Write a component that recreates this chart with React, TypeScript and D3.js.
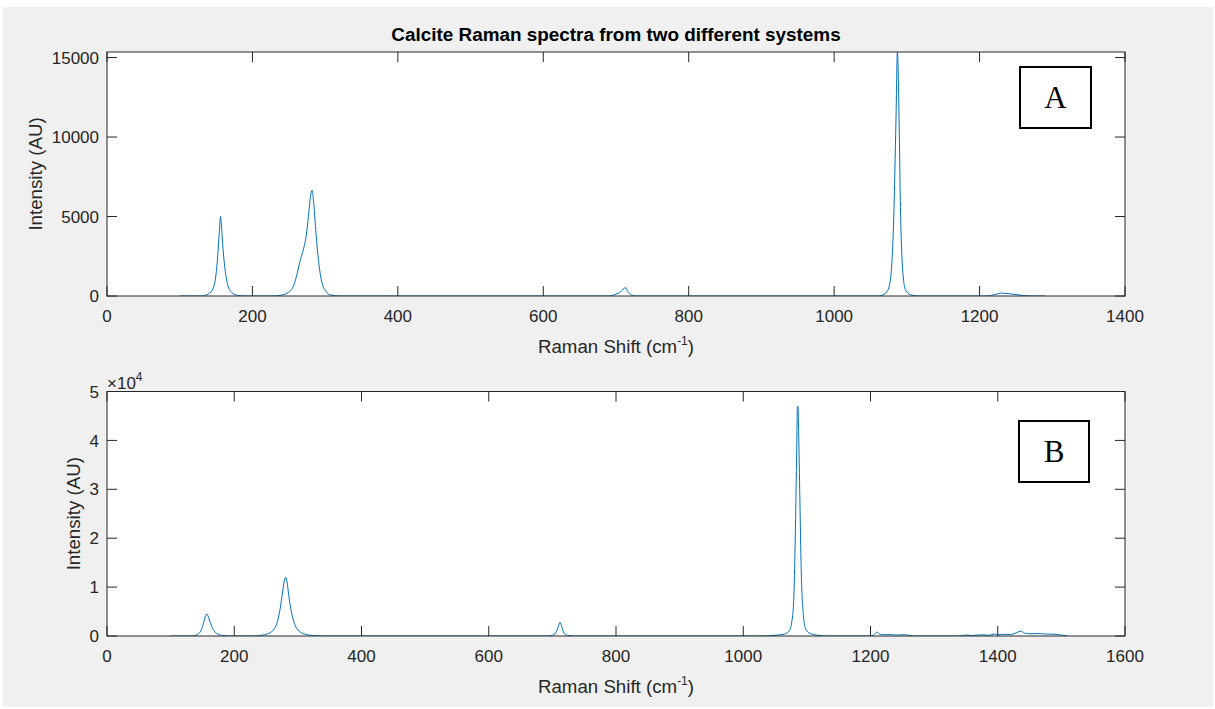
import React from 'react';
import * as d3 from 'd3';

// ---------- data ----------
const titleText = 'Calcite Raman spectra from two different systems';
const xLabelMain = 'Raman Shift (cm';
const xLabelSup = '-1';
const yLabelText = 'Intensity (AU)';

const xTicksA = [0, 200, 400, 600, 800, 1000, 1200, 1400];
const yTicksA = [0, 5000, 10000, 15000];
const yLabelsA = ['0', '5000', '10000', '15000'];
const xTicksB = [0, 200, 400, 600, 800, 1000, 1200, 1400, 1600];
const yTicksB = [0, 10000, 20000, 30000, 40000, 50000];
const yLabelsB = ['0', '1', '2', '3', '4', '5'];

// System A spectrum (Raman shift cm-1, intensity)
const shiftA = [
  100, 130, 140, 146, 150, 153, 155, 156, 157, 159, 162, 166, 172, 180, 190,
  230, 240, 250, 257, 262, 266, 270, 274, 277, 280, 282, 284, 287, 290, 294, 300, 308, 320,
  690, 700, 706, 710, 713, 716, 720, 728,
  1060, 1070, 1075, 1079, 1082, 1085, 1087, 1089, 1091, 1094, 1098, 1105, 1115,
  1210, 1220, 1230, 1240, 1250, 1260, 1270, 1290,
];
const intensityA = [
  0, 0, 150, 500, 1400, 3000, 4400, 5000, 4700, 3300, 1800, 700, 200, 40, 0,
  0, 60, 250, 700, 1500, 2300, 2900, 3800, 5000, 6300, 6650, 6000, 4200, 2600, 1200, 350, 60, 0,
  0, 120, 250, 450, 520, 300, 100, 0,
  0, 150, 500, 1800, 5000, 11000, 15350, 12000, 6000, 1800, 400, 80, 0,
  0, 80, 180, 150, 90, 30, 0, 0,
];

// System B spectrum
const shiftB = [
  100, 135, 142, 148, 152, 155, 157, 159, 163, 168, 174, 182, 195,
  230, 245, 255, 263, 268, 272, 276, 279, 281, 283, 286, 290, 295, 302, 312, 325, 340,
  690, 700, 705, 709, 712, 715, 718, 724, 735,
  1030, 1050, 1065, 1072, 1077, 1080, 1082, 1084, 1085, 1086, 1087, 1089, 1091, 1094, 1098, 1105, 1115, 1130,
  1200, 1205, 1210, 1214, 1220, 1230, 1240, 1255, 1262, 1270,
  1340, 1350, 1360, 1375, 1385, 1395, 1402, 1410, 1420, 1430, 1436, 1442, 1452, 1462, 1475, 1490, 1500, 1510,
];
const intensityB = [
  0, 0, 300, 1200, 2800, 4200, 4500, 4000, 2500, 1100, 400, 100, 0,
  0, 200, 600, 1500, 3000, 5500, 9000, 11500, 12000, 11000, 8000, 4800, 2400, 1000, 350, 80, 0,
  0, 150, 600, 1800, 2800, 1800, 600, 150, 0,
  0, 150, 400, 1000, 3500, 10000, 22000, 38000, 46500, 47000, 42000, 28000, 14000, 5000, 1500, 500, 200, 0,
  0, 200, 800, 400, 250, 300, 200, 250, 100, 0,
  0, 200, 100, 250, 150, 400, 250, 350, 300, 700, 1000, 600, 450, 500, 400, 350, 200, 0,
];

// ---------- styling / layout ----------
const W = 1215;
const H = 709;
const AX = '#262626';
const LINE = '#0072BD';
const FONT = '"Liberation Sans", Arial, Helvetica, sans-serif';
const SERIF = '"Liberation Serif", "Times New Roman", serif';
const TICK_FS = 17;
const LABEL_FS = 18.7;
const TICK_LEN = 10;

type PanelProps = {
  id: string;
  left: number; right: number; top: number; bottom: number;
  xMax: number; yMax: number;
  xTicks: number[]; yTicks: number[]; yLabels: string[];
  xs: number[]; ys: number[];
  yLabelX: number;
  exponent?: boolean;
  box: { x: number; y: number; w: number; h: number; label: string };
};

function Panel(p: PanelProps) {
  const x = d3.scaleLinear().domain([0, p.xMax]).range([p.left, p.right]);
  const y = d3.scaleLinear().domain([0, p.yMax]).range([p.bottom, p.top]);
  const pts = p.xs.map((v, i) => [v, p.ys[i]] as [number, number]);
  const line = d3
    .line<[number, number]>()
    .x((d) => x(d[0]))
    .y((d) => y(d[1]))
    .curve(d3.curveMonotoneX);
  const cx = (p.left + p.right) / 2;
  const cy = (p.top + p.bottom) / 2;
  return (
    <g>
      <defs>
        <clipPath id={`clip-${p.id}`}>
          <rect x={p.left} y={p.top} width={p.right - p.left} height={p.bottom - p.top} />
        </clipPath>
      </defs>
      <rect x={p.left} y={p.top} width={p.right - p.left} height={p.bottom - p.top} fill="#ffffff" />
      <path d={line(pts) || ''} fill="none" stroke={LINE} strokeWidth={1} clipPath={`url(#clip-${p.id})`} />
      {/* ticks */}
      {p.xTicks.map((t) => (
        <g key={`xt${t}`}>
          <line x1={x(t)} x2={x(t)} y1={p.bottom} y2={p.bottom - TICK_LEN} stroke={AX} strokeWidth={1} />
          <line x1={x(t)} x2={x(t)} y1={p.top} y2={p.top + TICK_LEN} stroke={AX} strokeWidth={1} />
          <text x={x(t)} y={p.bottom + 26} textAnchor="middle" fontFamily={FONT} fontSize={TICK_FS} fill={AX}>
            {t}
          </text>
        </g>
      ))}
      {p.yTicks.map((t, i) => (
        <g key={`yt${t}`}>
          <line x1={p.left} x2={p.left + TICK_LEN} y1={y(t)} y2={y(t)} stroke={AX} strokeWidth={1} />
          <line x1={p.right} x2={p.right - TICK_LEN} y1={y(t)} y2={y(t)} stroke={AX} strokeWidth={1} />
          <text x={p.left - 8} y={y(t)} dy="0.36em" textAnchor="end" fontFamily={FONT} fontSize={TICK_FS} fill={AX}>
            {p.yLabels[i]}
          </text>
        </g>
      ))}
      <rect x={p.left} y={p.top} width={p.right - p.left} height={p.bottom - p.top} fill="none" stroke={AX} strokeWidth={1} />
      {p.exponent && (
        <text x={p.left} y={p.top - 3} fontFamily={FONT} fontSize={17} fill={AX}>
          ×10
          <tspan dy={-8} fontSize={12}>4</tspan>
        </text>
      )}
      {/* axis labels */}
      <text x={cx} y={p.bottom + 57} textAnchor="middle" fontFamily={FONT} fontSize={LABEL_FS} fill={AX}>
        {xLabelMain}
        <tspan dy={-8} fontSize={12}>{xLabelSup}</tspan>
        <tspan dy={8}>)</tspan>
      </text>
      <text
        transform={`translate(${p.yLabelX},${cy}) rotate(-90)`}
        textAnchor="middle"
        dy="0.36em"
        fontFamily={FONT}
        fontSize={LABEL_FS}
        fill={AX}
      >
        {yLabelText}
      </text>
      {/* annotation box */}
      <rect x={p.box.x} y={p.box.y} width={p.box.w} height={p.box.h} fill="#ffffff" stroke="#000000" strokeWidth={2} />
      <text
        x={p.box.x + p.box.w / 2}
        y={p.box.y + p.box.h / 2 + 10.5}
        textAnchor="middle"
        fontFamily={SERIF}
        fontSize={31}
        fill="#000000"
      >
        {p.box.label}
      </text>
    </g>
  );
}

export default function App() {
  return (
    <svg
      width={W}
      height={H}
      style={{ position: 'absolute', left: 0, top: 0, display: 'block' }}
      xmlns="http://www.w3.org/2000/svg"
    >
      <rect x={0} y={0} width={W} height={H} fill="#ffffff" />
      <rect x={3} y={7} width={1210} height={700} fill="#f0f0f0" />
      <text x={616} y={41} textAnchor="middle" fontFamily={FONT} fontWeight="bold" fontSize={18.9} fill="#000000">
        {titleText}
      </text>
      <Panel
        id="a"
        left={107}
        right={1125}
        top={52}
        bottom={296}
        xMax={1400}
        yMax={15350}
        xTicks={xTicksA}
        yTicks={yTicksA}
        yLabels={yLabelsA}
        xs={shiftA}
        ys={intensityA}
        yLabelX={35}
        box={{ x: 1020, y: 67, w: 71, h: 61, label: 'A' }}
      />
      <Panel
        id="b"
        left={107}
        right={1125}
        top={391.5}
        bottom={636}
        xMax={1600}
        yMax={50000}
        xTicks={xTicksB}
        yTicks={yTicksB}
        yLabels={yLabelsB}
        xs={shiftB}
        ys={intensityB}
        yLabelX={73}
        exponent
        box={{ x: 1019, y: 421, w: 70, h: 61, label: 'B' }}
      />
    </svg>
  );
}
